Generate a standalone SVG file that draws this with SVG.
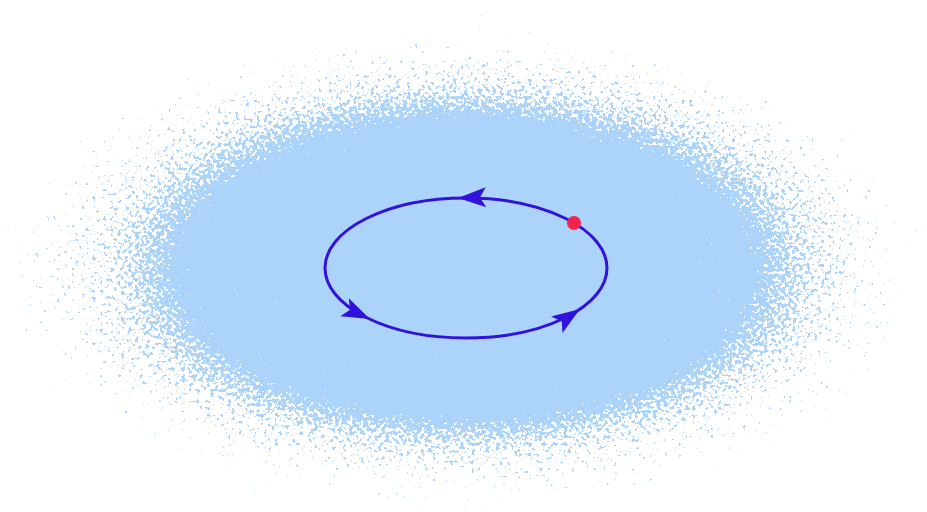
<svg xmlns="http://www.w3.org/2000/svg" width="927" height="512" viewBox="0 0 927 512">
  <defs>
    <radialGradient id="cloudGrad" cx="0.5" cy="0.5" r="0.5">
      <stop offset="0" stop-color="#000" stop-opacity="1"/>
      <stop offset="0.56" stop-color="#000" stop-opacity="0.85"/>
      <stop offset="0.62" stop-color="#000" stop-opacity="0.6"/>
      <stop offset="0.7" stop-color="#000" stop-opacity="0.43"/>
      <stop offset="0.78" stop-color="#000" stop-opacity="0.33"/>
      <stop offset="0.88" stop-color="#000" stop-opacity="0.24"/>
      <stop offset="1" stop-color="#000" stop-opacity="0.1"/>
    </radialGradient>
    <filter id="speckle" filterUnits="userSpaceOnUse" x="0" y="0" width="927" height="512" color-interpolation-filters="sRGB">
      <feTurbulence type="fractalNoise" baseFrequency="0.28" numOctaves="2" seed="7" result="noise"/>
      <feColorMatrix in="noise" type="matrix" values="0 0 0 0 0  0 0 0 0 0  0 0 0 0 0  1 0 0 0 0" result="noiseA"/>
      <feComposite in="SourceAlpha" in2="noiseA" operator="arithmetic" k1="0" k2="1" k3="1" k4="-1" result="sum"/>
      <feComponentTransfer in="sum" result="mask">
        <feFuncA type="linear" slope="30" intercept="0"/>
      </feComponentTransfer>
      <feFlood flood-color="#acd4fa" result="col"/>
      <feComposite in="col" in2="mask" operator="in"/>
    </filter>
    <path id="arrowhead" d="M0,0 L-28,-10 L-22,0 L-28,10 Z"/>
    <style>
      .orbit { fill: none; stroke: #3212da; stroke-width: 3; }
      .arrow { fill: #3212da; }
      .mass { fill: #f0244c; }
    </style>
  </defs>
  <rect width="927" height="512" fill="#ffffff"/>
  <g id="cloud">
    <ellipse cx="466" cy="268" rx="495" ry="258" fill="url(#cloudGrad)" filter="url(#speckle)"/>
  </g>
  <g id="orbit">
    <ellipse class="orbit" cx="466" cy="268" rx="141" ry="70"/>
  </g>
  <g id="arrows">
    <use href="#arrowhead" class="arrow" transform="translate(458,198) rotate(178.5)"/>
    <use href="#arrowhead" class="arrow" transform="translate(370,319) rotate(24.8)"/>
    <use href="#arrowhead" class="arrow" transform="translate(580,309) rotate(-34.3)"/>
  </g>
  <g id="body">
    <circle class="mass" cx="574" cy="223" r="7"/>
  </g>
</svg>
